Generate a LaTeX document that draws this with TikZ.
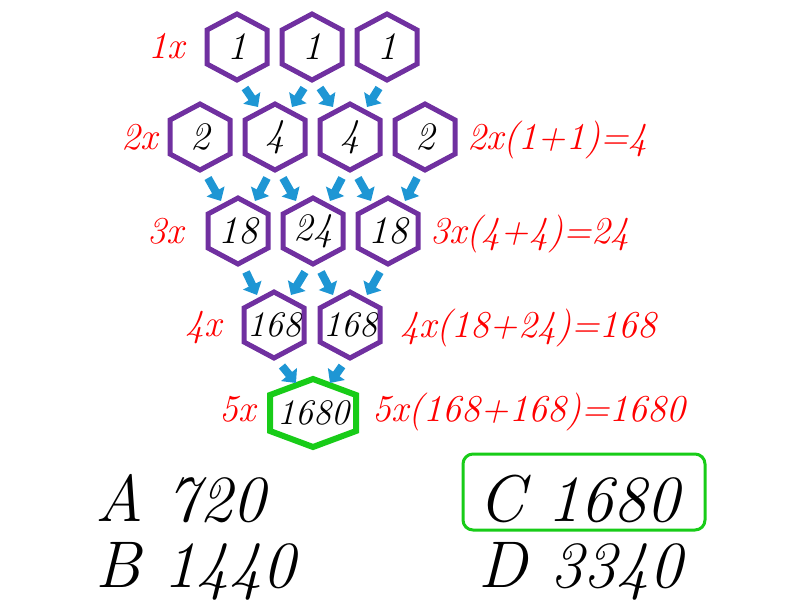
\documentclass[tikz,border=0pt]{standalone}
\usetikzlibrary{arrows.meta}
\definecolor{hexpurple}{RGB}{112,48,160}
\definecolor{arrowblue}{RGB}{30,150,212}
\definecolor{goodgreen}{RGB}{24,204,24}

\begin{document}
\begin{tikzpicture}[x=1pt,y=-1pt,
    cell/.style={font=\fontsize{39}{39}\selectfont\itshape, inner sep=0pt},
    widecell/.style={font=\fontsize{36}{36}\selectfont\itshape, inner sep=0pt},
    factor/.style={font=\fontsize{38}{38}\selectfont\itshape, text=red, inner sep=0pt},
    answer/.style={font=\fontsize{66}{66}\selectfont\itshape, inner sep=0pt, anchor=base west},
    hexline/.style={line width=5pt, draw=hexpurple},
    jump/.style={line width=8pt, draw=arrowblue, -{Triangle[width=20pt,length=11pt]}}]
            \useasboundingbox (0,0) rectangle (800,600);
            % purple cells
            \foreach \n/\x/\y/\v/\f in {r1a/237/47/1/cell, r1b/312/47/1/cell, r1c/387/47/1/cell,
                r2a/200/137/2/cell, r2b/275/137/4/cell, r2c/350/137/4/cell, r2d/425/137/2/cell,
                r3a/238/231/18/cell, r3b/313/231/24/cell, r3c/388/231/18/cell,
                r4a/274/325/168/widecell, r4b/350/325/168/widecell} {
                \node[\f] (\n) at (\x,\y) {\v};
                \draw[hexline, shift={(\n.center)}] (0,-33) -- (30,-17) -- (30,17) -- (0,33) -- (-30,17) -- (-30,-17) -- cycle;
            }
            % green cell
            \node[widecell] (r5a) at (313,413) {1680};
            \draw[line width=6pt, draw=goodgreen, shift={(r5a.center)}] (0,-34) -- (43,-18) -- (43,18) -- (0,34) -- (-43,18) -- (-43,-18) -- cycle;
            % arrows
            \foreach \a/\b/\s in {r1a/r2b/1, r1b/r2b/-1, r1b/r2c/1, r1c/r2c/-1,
                r2a/r3a/1, r2b/r3a/-1, r2b/r3b/1, r2c/r3b/-1, r2c/r3c/1, r2d/r3c/-1,
                r3a/r4a/1, r3b/r4a/-1, r3b/r4b/1, r3c/r4b/-1,
                r4a/r5a/1, r4b/r5a/-1}
                \draw[jump] ([shift={(8*\s,41)}]\a.center) -- ([shift={(-17*\s,-30)}]\b.center);
            % factors
            \node[factor, anchor=base east] (f1) at (185,58) {1x};
            \node[factor, anchor=base east] (f2) at (158,149) {2x};
            \node[factor, anchor=base east] (f3) at (184,243) {3x};
            \node[factor, anchor=base east] (f4) at (222,336) {4x};
            \node[factor, anchor=base east] (f5) at (256,421) {5x};
            \node[factor, anchor=base west] (s2) at (467,149) {2x(1+1)=4};
            \node[factor, anchor=base west] (s3) at (430,243) {3x(4+4)=24};
            \node[factor, anchor=base west] (s4) at (400,337) {4x(18+24)=168};
            \node[factor, anchor=base west] (s5) at (372,421) {5x(168+168)=1680};
            % answers
            \node[answer] (optA) at (95,521) {A 720};
            \node[answer] (optB) at (95,587) {B 1440};
            \node[answer] (optC) at (478,521) {C 1680};
            \node[answer] (optD) at (478,587) {D 3340};
            \draw[line width=3pt, goodgreen, rounded corners=10pt] (463,454) rectangle (705,530);
        \end{tikzpicture}
\end{document}
